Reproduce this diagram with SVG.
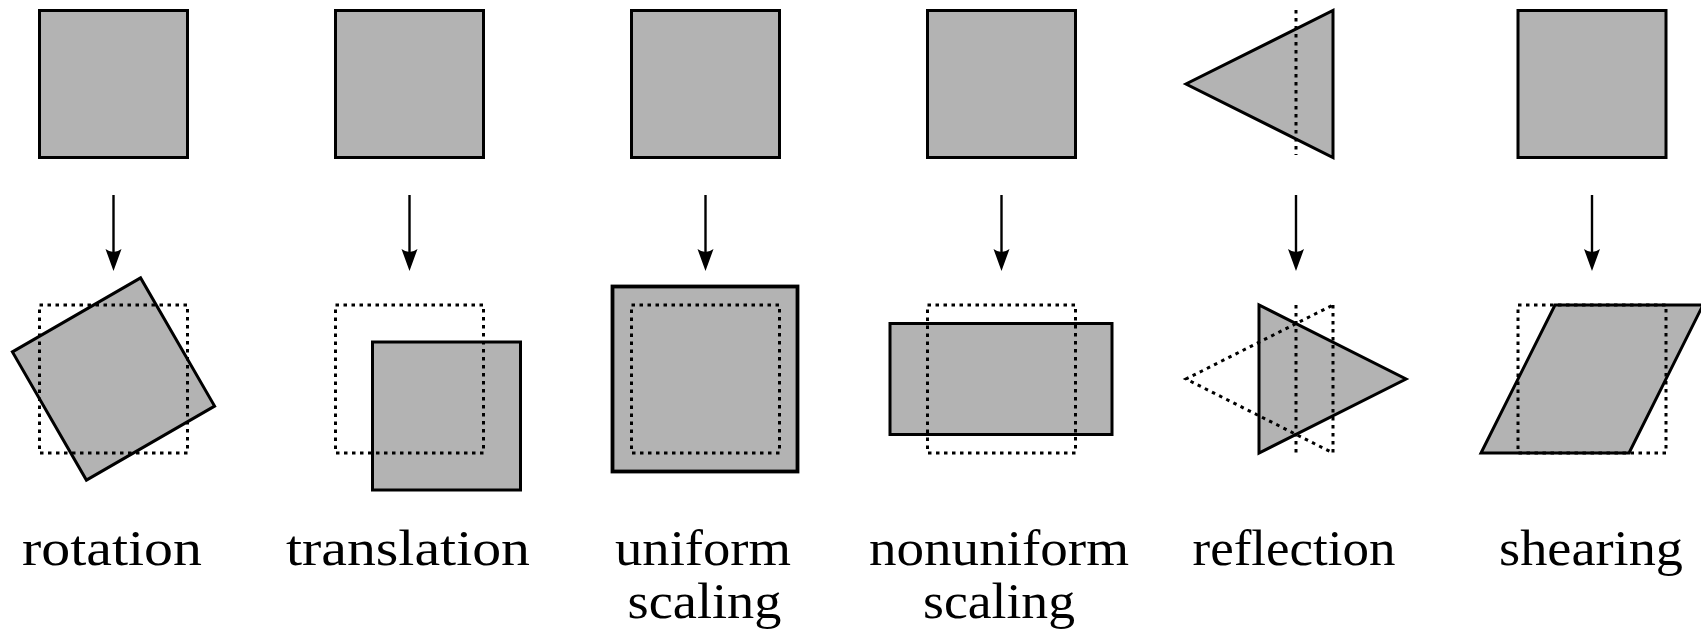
<svg xmlns="http://www.w3.org/2000/svg" width="1701" height="633" viewBox="0 0 1701 633">
  <defs>
    <style>
      .shape { fill: #b3b3b3; stroke: #000; stroke-width: 3; stroke-linejoin: miter; }
      .thick { stroke-width: 3.8; }
      .ghost { fill: none; stroke: #000; stroke-width: 3; stroke-dasharray: 3.5 4.5; }
      .conn { fill: none; stroke: #000; stroke-width: 2.4; marker-end: url(#arrowhead); }
      .label { font-family: "Liberation Serif", "DejaVu Serif", serif; font-size: 50px; fill: #000; text-anchor: middle; }
    </style>
    <marker id="arrowhead" viewBox="-30 -10 40 20" markerWidth="40" markerHeight="20" markerUnits="userSpaceOnUse" refX="-9" refY="0" orient="auto">
      <path d="M0,0 L-22,-8 Q-16,0 -22,8 Z" fill="#000"/>
    </marker>
  </defs>

  <!-- rotation -->
  <g id="rotation-source">
    <rect class="shape" x="39.5" y="10.5" width="148" height="147"/>
  </g>
  <g id="rotation-result">
    <rect class="shape" x="39.5" y="305" width="148" height="148" transform="rotate(-30 113.5 379)"/>
    <rect class="ghost" x="39.5" y="305" width="148" height="148"/>
    <text class="label" x="112" y="565" textLength="180" lengthAdjust="spacingAndGlyphs">rotation</text>
  </g>

  <!-- translation -->
  <g id="translation-source">
    <rect class="shape" x="335.5" y="10.5" width="148" height="147"/>
  </g>
  <g id="translation-result">
    <rect class="shape" x="372.5" y="342" width="148" height="148"/>
    <rect class="ghost" x="335.5" y="305" width="148" height="148"/>
    <text class="label" x="408" y="565" textLength="244" lengthAdjust="spacingAndGlyphs">translation</text>
  </g>

  <!-- uniform scaling -->
  <g id="uniform-scaling-source">
    <rect class="shape" x="631.5" y="10.5" width="148" height="147"/>
  </g>
  <g id="uniform-scaling-result">
    <rect class="shape thick" x="612.5" y="286.5" width="185" height="185"/>
    <rect class="ghost" x="631.5" y="305" width="148" height="148"/>
    <text class="label" x="703" y="565" textLength="176" lengthAdjust="spacingAndGlyphs">uniform</text>
    <text class="label" x="704.5" y="618" textLength="154" lengthAdjust="spacingAndGlyphs">scaling</text>
  </g>

  <!-- nonuniform scaling -->
  <g id="nonuniform-scaling-source">
    <rect class="shape" x="927.5" y="10.5" width="148" height="147"/>
  </g>
  <g id="nonuniform-scaling-result">
    <rect class="shape" x="890" y="323.5" width="222" height="111"/>
    <rect class="ghost" x="927.5" y="305" width="148" height="148"/>
    <text class="label" x="999" y="565" textLength="260" lengthAdjust="spacingAndGlyphs">nonuniform</text>
    <text class="label" x="999" y="618" textLength="152" lengthAdjust="spacingAndGlyphs">scaling</text>
  </g>

  <!-- reflection about the vertical axis x = 1296 -->
  <g id="reflection-source">
    <polygon class="shape" points="1333,10.5 1333,157.5 1186,84"/>
    <line class="ghost" x1="1296" y1="10" x2="1296" y2="155"/>
  </g>
  <g id="reflection-result">
    <polygon class="shape" points="1259,305 1259,453 1406,379"/>
    <polygon class="ghost" points="1333,305 1333,453 1186,379"/>
    <line class="ghost" x1="1296" y1="305" x2="1296" y2="453"/>
    <text class="label" x="1294" y="565" textLength="203" lengthAdjust="spacingAndGlyphs">reflection</text>
  </g>

  <!-- shearing -->
  <g id="shearing-source">
    <rect class="shape" x="1518" y="10.5" width="148" height="147"/>
  </g>
  <g id="shearing-result">
    <polygon class="shape" points="1555,305 1703,305 1629,453 1481,453"/>
    <rect class="ghost" x="1518" y="305" width="148" height="148"/>
    <text class="label" x="1591" y="565" textLength="184" lengthAdjust="spacingAndGlyphs">shearing</text>
  </g>

  <!-- transformation arrows -->
  <g id="connectors">
    <line class="conn" x1="113.5" y1="195" x2="113.5" y2="262"/>
    <line class="conn" x1="409.5" y1="195" x2="409.5" y2="262"/>
    <line class="conn" x1="705.5" y1="195" x2="705.5" y2="262"/>
    <line class="conn" x1="1001.5" y1="195" x2="1001.5" y2="262"/>
    <line class="conn" x1="1296" y1="195" x2="1296" y2="262"/>
    <line class="conn" x1="1592" y1="195" x2="1592" y2="262"/>
  </g>
</svg>
